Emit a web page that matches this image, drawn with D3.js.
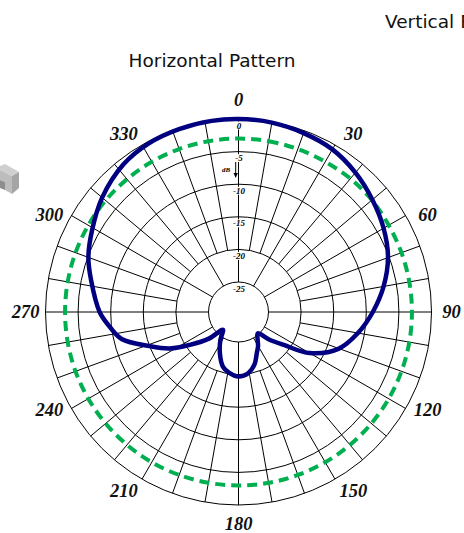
<!DOCTYPE html>
<html>
<head>
<meta charset="utf-8">
<script src="https://cdn.jsdelivr.net/npm/d3@7/dist/d3.min.js"></script>
<style>
  body { margin: 0; background: #fff; }
</style>
</head>
<body>
<div id="chart"></div>
<script>
// ==============================
// Horizontal antenna pattern (polar, dB)
// ==============================

// dB rings and their labels
var ringLevels = [-25, -20, -15, -10, -5, 0];
var ringLabels = ["-25", "-20", "-15", "-10", "-5", "0"];

// angle labels (degrees, clockwise from top)
var angleTicks = [0, 30, 60, 90, 120, 150, 180, 210, 240, 270, 300, 330];

// measured horizontal pattern (blue)
var blueAngles = [0, 10, 20, 30, 40, 50, 60, 70, 80, 90, 100, 110, 120, 126, 132, 138, 145, 150, 156, 163, 171,
  180, 189, 196, 204, 213, 221, 228, 236, 242, 249, 257, 264, 270, 282, 290, 299, 310, 322, 332, 342, 352];
var blueDb = [0, -0.1, -0.4, -0.8, -1.7, -2.8, -3.9, -5.2, -7, -9, -11, -13.2, -17, -21, -23.3, -25.2, -24.5, -23.6, -22.7, -21.2, -20.1,
  -19.7, -20.2, -20.9, -22.6, -24.5, -26, -23.5, -20.6, -17.7, -15, -11.2, -9.6, -8.3, -6.5, -5.1, -3.9, -2.3, -0.9, -0.3, -0.1, 0];

// reference pattern (green dashed)
var greenAngles = [0, 10, 20, 30, 40, 50, 60, 70, 80, 90, 100, 110, 120, 130, 140, 150, 160, 170,
  180, 190, 200, 210, 220, 230, 240, 250, 260, 270, 280, 290, 300, 310, 320, 330, 340, 350];
var greenDb = [-3, -3, -3, -3, -2.9, -2.9, -3, -3, -3, -3, -3, -3, -3, -3, -3, -3, -3, -3,
  -3, -3, -3, -3, -3, -3, -3, -3, -3, -3, -3, -3, -3, -3, -3, -3, -3, -3];

var svgWidth = 464;
var svgHeight = 533;
var cx = 238.5;
var cy = 312;

var svg = d3.select("#chart")
  .append("svg")
  .attr("width", svgWidth)
  .attr("height", svgHeight)
  .style("display", "block");

svg.append("rect")
  .attr("width", svgWidth)
  .attr("height", svgHeight)
  .attr("fill", "#fff");

// titles
svg.append("text")
  .attr("x", 212)
  .attr("y", 67)
  .attr("text-anchor", "middle")
  .attr("font-family", "DejaVu Sans, sans-serif")
  .attr("font-size", "18.5px")
  .attr("fill", "#111")
  .text("Horizontal Pattern");

svg.append("text")
  .attr("x", 385)
  .attr("y", 28)
  .attr("font-family", "DejaVu Sans, sans-serif")
  .attr("font-size", "18.5px")
  .attr("fill", "#111")
  .text("Vertical Pattern");

// little grey antenna picture, cut by the left edge
var icon = svg.append("g");
icon.append("polygon")
  .attr("points", "0,166 5,164 19,172 12,176 0,170")
  .attr("fill", "#cfcfcf");
icon.append("polygon")
  .attr("points", "12,176 19,172 19,188 12,194")
  .attr("fill", "#a5a5a5");
icon.append("polygon")
  .attr("points", "0,170 12,176 12,194 5,190 5,182 0,180")
  .attr("fill", "#bdbdbd");
icon.append("polygon")
  .attr("points", "0,180 5,182 5,190 0,188")
  .attr("fill", "#8e8e8e");

// radial scale (dB -> px)
var rScale = d3.scaleLinear()
  .domain([-25, 0])
  .range([30, 193]);

var chartGroup = svg.append("g")
  .attr("transform", `translate(${cx}, ${cy})`);

var grid = chartGroup.append("g")
  .attr("stroke", "#000")
  .attr("stroke-width", 1)
  .attr("fill", "none");

// spokes: every 10 deg from the -20 ring, every 30 deg from the -25 ring
d3.range(0, 360, 10).forEach(function(a) {
  var rad = a * Math.PI / 180;
  var r0 = (a % 30 === 0) ? rScale(-25) : rScale(-20);
  var r1 = rScale(0);
  grid.append("line")
    .attr("x1", r0 * Math.sin(rad))
    .attr("y1", -r0 * Math.cos(rad))
    .attr("x2", r1 * Math.sin(rad))
    .attr("y2", -r1 * Math.cos(rad));
});

grid.selectAll("circle")
  .data(ringLevels)
  .enter()
  .append("circle")
  .attr("r", d => rScale(d));

// dB labels down the 0 deg spoke
var dbLabels = chartGroup.selectAll(".dbLabel")
  .data(ringLevels)
  .enter()
  .append("g")
  .attr("class", "dbLabel")
  .attr("transform", d => `translate(0.5, ${-rScale(d) + 6.5})`);

dbLabels.append("rect")
  .attr("x", (d, i) => -ringLabels[i].length * 2.4)
  .attr("y", -4)
  .attr("width", (d, i) => ringLabels[i].length * 4.8)
  .attr("height", 8)
  .attr("fill", "#fff");

dbLabels.append("text")
  .attr("text-anchor", "middle")
  .attr("dy", "0.35em")
  .attr("font-family", "Liberation Serif, serif")
  .attr("font-style", "italic")
  .attr("font-weight", "bold")
  .attr("font-size", "9px")
  .attr("fill", "#000")
  .text((d, i) => ringLabels[i]);

// "dB" with a down arrow
chartGroup.append("text")
  .attr("x", -12.5)
  .attr("y", -140)
  .attr("text-anchor", "middle")
  .attr("font-family", "Liberation Serif, serif")
  .attr("font-style", "italic")
  .attr("font-weight", "bold")
  .attr("font-size", "7px")
  .text("dB");

chartGroup.append("line")
  .attr("x1", -2.8).attr("y1", -150)
  .attr("x2", -2.8).attr("y2", -137)
  .attr("stroke", "#000")
  .attr("stroke-width", 1);

chartGroup.append("path")
  .attr("d", "M-5,-139 L-2.8,-134 L-0.6,-139 Z")
  .attr("fill", "#000");

// angle labels
chartGroup.selectAll(".angleLabel")
  .data(angleTicks)
  .enter()
  .append("text")
  .attr("class", "angleLabel")
  .attr("x", function(d) {
    var a = (d + 3 * Math.sin(2 * d * Math.PI / 180)) * Math.PI / 180;
    return 213 * Math.sin(a);
  })
  .attr("y", function(d) {
    var a = (d + 3 * Math.sin(2 * d * Math.PI / 180)) * Math.PI / 180;
    return -212 * Math.cos(a);
  })
  .attr("dy", "0.35em")
  .attr("text-anchor", "middle")
  .attr("font-family", "Liberation Serif, serif")
  .attr("font-style", "italic")
  .attr("font-weight", "bold")
  .attr("font-size", "18.5px")
  .attr("fill", "#111")
  .text(d => d);

// pattern lines
var radial = d3.lineRadial()
  .angle(d => d[0] * Math.PI / 180)
  .radius(d => rScale(d[1]))
  .curve(d3.curveCatmullRomClosed.alpha(0.5));

var greenData = greenAngles.map((a, i) => [a, greenDb[i]]);
var blueData = blueAngles.map((a, i) => [a, blueDb[i]]);

chartGroup.append("path")
  .datum(greenData)
  .attr("d", radial)
  .attr("fill", "none")
  .attr("stroke", "#00b050")
  .attr("stroke-width", 4)
  .attr("stroke-dasharray", "10,6");

chartGroup.append("path")
  .datum(blueData)
  .attr("d", radial)
  .attr("fill", "none")
  .attr("stroke", "#000080")
  .attr("stroke-width", 4.5)
  .attr("stroke-linejoin", "round");
</script>
</body>
</html>
